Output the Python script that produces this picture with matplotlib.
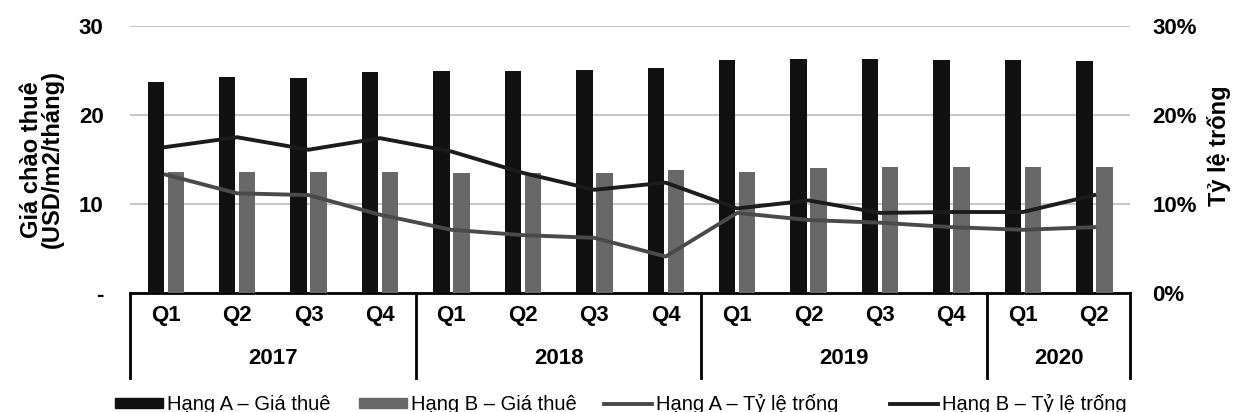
import matplotlib
matplotlib.use("Agg")
import matplotlib.pyplot as plt
from matplotlib.patches import Patch
from matplotlib.lines import Line2D
from matplotlib.transforms import blended_transform_factory

plt.rcParams['font.family'] = ['Liberation Sans', 'DejaVu Sans']

# --- DATA ---
quarters = ['Q1', 'Q2', 'Q3', 'Q4', 'Q1', 'Q2', 'Q3', 'Q4',
            'Q1', 'Q2', 'Q3', 'Q4', 'Q1', 'Q2']
years = ['2017', '2018', '2019', '2020']
year_sizes = [4, 4, 4, 2]
rent_a = [23.7, 24.3, 24.2, 24.8, 24.9, 25.0, 25.1, 25.3,
          26.2, 26.3, 26.3, 26.2, 26.2, 26.1]
rent_b = [13.6, 13.6, 13.6, 13.6, 13.5, 13.5, 13.5, 13.8,
          13.6, 14.1, 14.2, 14.2, 14.2, 14.2]
vac_a = [13.3, 11.2, 11.0, 8.8, 7.1, 6.5, 6.2, 4.1,
         9.0, 8.2, 7.9, 7.4, 7.1, 7.4]
vac_b = [16.4, 17.5, 16.1, 17.4, 15.9, 13.5, 11.6, 12.4,
         9.5, 10.4, 9.0, 9.1, 9.1, 11.0]

labels = ['Hạng A – Giá thuê', 'Hạng B – Giá thuê',
          'Hạng A – Tỷ lệ trống', 'Hạng B – Tỷ lệ trống']
c_a_bar = '#111111'
c_b_bar = '#686868'
c_a_line = '#4a4a4a'
c_b_line = '#1c1c1c'

x = list(range(len(quarters)))
fs = 16

fig = plt.figure(figsize=(12.35, 4.12), dpi=100)
ax = fig.add_axes([130/1235, 1 - 293/412, 1000/1235, 267/412])
ax2 = ax.twinx()

w = 0.23
ax.bar([i - 0.14 for i in x], rent_a, width=w, color=c_a_bar, zorder=3)
ax.bar([i + 0.14 for i in x], rent_b, width=w, color=c_b_bar, zorder=3)
ax.set_ylim(0, 30)
ax.set_xlim(-0.5, len(x) - 0.5)
ax.set_yticks([0, 10, 20, 30])
ax.set_yticklabels(['-', '10', '20', '30'], fontsize=fs, fontweight='bold')
ax.yaxis.grid(True, color='#c8c8c8', linewidth=1.5, zorder=0)
ax.set_axisbelow(True)
ax.tick_params(axis='y', length=0, pad=19)
ax.set_ylabel('Giá chào thuê\n(USD/m2/tháng)', fontsize=17, fontweight='bold',
              linespacing=0.9)
ax.yaxis.set_label_coords(-0.066, 0.5)

ax.set_xticks(x)
ax.set_xticklabels(quarters, fontsize=fs, fontweight='bold')
ax.tick_params(axis='x', length=0, pad=9)

for s in ['top', 'left', 'right']:
    ax.spines[s].set_visible(False)
    ax2.spines[s].set_visible(False)
ax.spines['bottom'].set_linewidth(2)
ax2.spines['bottom'].set_visible(False)

# year groups under quarters
tr = blended_transform_factory(ax.transData, ax.transAxes)
start = -0.5
ax.plot([start, start], [0, -0.32], color='black', lw=2, transform=tr, clip_on=False)
for yr, n in zip(years, year_sizes):
    end = start + n
    ax.plot([end, end], [0, -0.32], color='black', lw=2, transform=tr, clip_on=False)
    ax.text((start + end) / 2, -0.245, yr, transform=tr, ha='center', va='center',
            fontsize=fs, fontweight='bold')
    start = end

ax2.plot(x, vac_a, color=c_a_line, lw=2.8, zorder=4)
ax2.plot(x, vac_b, color=c_b_line, lw=2.8, zorder=4)
ax2.set_ylim(0, 30)
ax2.set_yticks([0, 10, 20, 30])
ax2.set_yticklabels(['0%', '10%', '20%', '30%'], fontsize=fs, fontweight='bold')
ax2.tick_params(axis='y', length=0, pad=16)
ax2.set_ylabel('Tỷ lệ trống', fontsize=17, fontweight='bold', rotation=90)
ax2.yaxis.set_label_coords(1.077, 0.55)

handles = [Patch(color=c_a_bar), Patch(color=c_b_bar),
           Line2D([], [], color=c_a_line, lw=2.8), Line2D([], [], color=c_b_line, lw=2.8)]
xpos = [113, 357, 602, 888]
for h, lab, xp in zip(handles, labels, xpos):
    fig.legend([h], [lab], loc='lower left', bbox_to_anchor=(xp / 1235, -0.01),
               frameon=False, fontsize=14.5, handlelength=2.4, handleheight=0.4,
               handletextpad=0.2, borderpad=0.1, borderaxespad=0)

fig.savefig('out.png', dpi=100)
